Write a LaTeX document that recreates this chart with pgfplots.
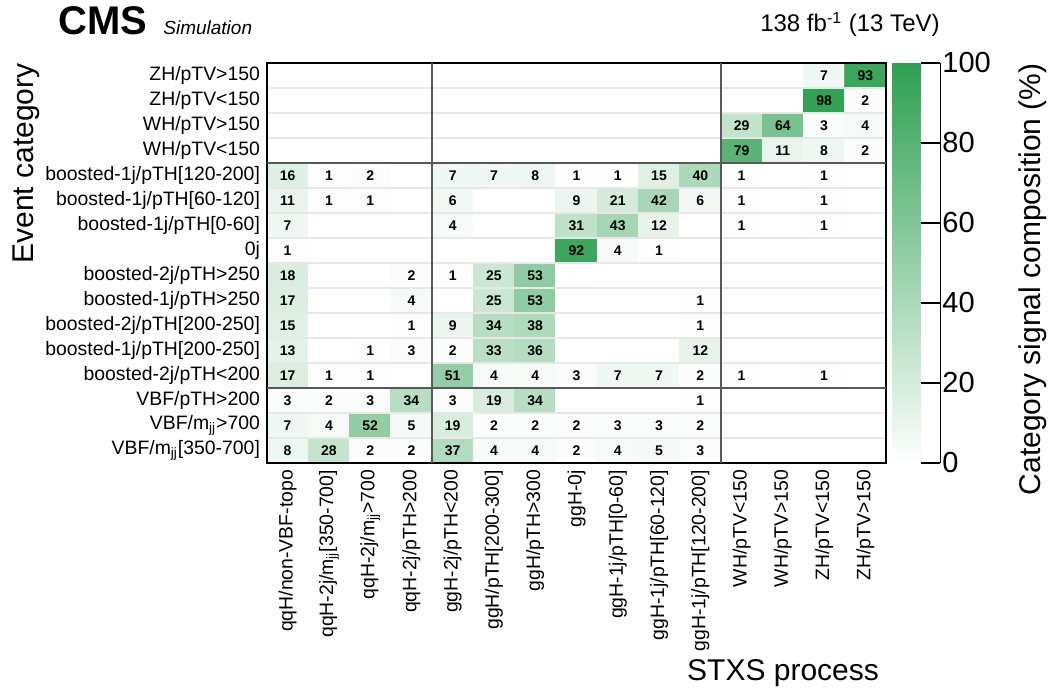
\documentclass[border=0pt]{standalone}
\usepackage{fontspec}
\setmainfont{Liberation Sans}
\usepackage{pgfplots}
\usepackage{pgfplotstable}
\pgfplotsset{compat=1.18}

% share of each STXS process (x) in each event category (y), in percent
\pgfplotstableread[row sep=\\]{
x y v\\
0 0 8\\ 1 0 28\\ 2 0 2\\ 3 0 2\\ 4 0 37\\ 5 0 4\\ 6 0 4\\ 7 0 2\\ 8 0 4\\ 9 0 5\\ 10 0 3\\ 11 0 0\\ 12 0 0\\ 13 0 0\\ 14 0 0\\
0 1 7\\ 1 1 4\\ 2 1 52\\ 3 1 5\\ 4 1 19\\ 5 1 2\\ 6 1 2\\ 7 1 2\\ 8 1 3\\ 9 1 3\\ 10 1 2\\ 11 1 0\\ 12 1 0\\ 13 1 0\\ 14 1 0\\
0 2 3\\ 1 2 2\\ 2 2 3\\ 3 2 34\\ 4 2 3\\ 5 2 19\\ 6 2 34\\ 7 2 0\\ 8 2 0\\ 9 2 0\\ 10 2 1\\ 11 2 0\\ 12 2 0\\ 13 2 0\\ 14 2 0\\
0 3 17\\ 1 3 1\\ 2 3 1\\ 3 3 0\\ 4 3 51\\ 5 3 4\\ 6 3 4\\ 7 3 3\\ 8 3 7\\ 9 3 7\\ 10 3 2\\ 11 3 1\\ 12 3 0\\ 13 3 1\\ 14 3 0\\
0 4 13\\ 1 4 0\\ 2 4 1\\ 3 4 3\\ 4 4 2\\ 5 4 33\\ 6 4 36\\ 7 4 0\\ 8 4 0\\ 9 4 0\\ 10 4 12\\ 11 4 0\\ 12 4 0\\ 13 4 0\\ 14 4 0\\
0 5 15\\ 1 5 0\\ 2 5 0\\ 3 5 1\\ 4 5 9\\ 5 5 34\\ 6 5 38\\ 7 5 0\\ 8 5 0\\ 9 5 0\\ 10 5 1\\ 11 5 0\\ 12 5 0\\ 13 5 0\\ 14 5 0\\
0 6 17\\ 1 6 0\\ 2 6 0\\ 3 6 4\\ 4 6 0\\ 5 6 25\\ 6 6 53\\ 7 6 0\\ 8 6 0\\ 9 6 0\\ 10 6 1\\ 11 6 0\\ 12 6 0\\ 13 6 0\\ 14 6 0\\
0 7 18\\ 1 7 0\\ 2 7 0\\ 3 7 2\\ 4 7 1\\ 5 7 25\\ 6 7 53\\ 7 7 0\\ 8 7 0\\ 9 7 0\\ 10 7 0\\ 11 7 0\\ 12 7 0\\ 13 7 0\\ 14 7 0\\
0 8 1\\ 1 8 0\\ 2 8 0\\ 3 8 0\\ 4 8 0\\ 5 8 0\\ 6 8 0\\ 7 8 92\\ 8 8 4\\ 9 8 1\\ 10 8 0\\ 11 8 0\\ 12 8 0\\ 13 8 0\\ 14 8 0\\
0 9 7\\ 1 9 0\\ 2 9 0\\ 3 9 0\\ 4 9 4\\ 5 9 0\\ 6 9 0\\ 7 9 31\\ 8 9 43\\ 9 9 12\\ 10 9 0\\ 11 9 1\\ 12 9 0\\ 13 9 1\\ 14 9 0\\
0 10 11\\ 1 10 1\\ 2 10 1\\ 3 10 0\\ 4 10 6\\ 5 10 0\\ 6 10 0\\ 7 10 9\\ 8 10 21\\ 9 10 42\\ 10 10 6\\ 11 10 1\\ 12 10 0\\ 13 10 1\\ 14 10 0\\
0 11 16\\ 1 11 1\\ 2 11 2\\ 3 11 0\\ 4 11 7\\ 5 11 7\\ 6 11 8\\ 7 11 1\\ 8 11 1\\ 9 11 15\\ 10 11 40\\ 11 11 1\\ 12 11 0\\ 13 11 1\\ 14 11 0\\
0 12 0\\ 1 12 0\\ 2 12 0\\ 3 12 0\\ 4 12 0\\ 5 12 0\\ 6 12 0\\ 7 12 0\\ 8 12 0\\ 9 12 0\\ 10 12 0\\ 11 12 79\\ 12 12 11\\ 13 12 8\\ 14 12 2\\
0 13 0\\ 1 13 0\\ 2 13 0\\ 3 13 0\\ 4 13 0\\ 5 13 0\\ 6 13 0\\ 7 13 0\\ 8 13 0\\ 9 13 0\\ 10 13 0\\ 11 13 29\\ 12 13 64\\ 13 13 3\\ 14 13 4\\
0 14 0\\ 1 14 0\\ 2 14 0\\ 3 14 0\\ 4 14 0\\ 5 14 0\\ 6 14 0\\ 7 14 0\\ 8 14 0\\ 9 14 0\\ 10 14 0\\ 11 14 0\\ 12 14 0\\ 13 14 98\\ 14 14 2\\
0 15 0\\ 1 15 0\\ 2 15 0\\ 3 15 0\\ 4 15 0\\ 5 15 0\\ 6 15 0\\ 7 15 0\\ 8 15 0\\ 9 15 0\\ 10 15 0\\ 11 15 0\\ 12 15 0\\ 13 15 7\\ 14 15 93\\
}\cells

\begin{document}
\begin{tikzpicture}
\begin{axis}[
  name=main,
  scale only axis,
  width=309.5pt, height=200pt,
  xmin=-0.5, xmax=14.5, ymin=-0.5, ymax=15.5,
  xtick={0,...,14}, ytick={0,...,15},
  xticklabels={{qqH/non-VBF-topo},{qqH-2j/m\textsubscript{jj}[350-700]},{qqH-2j/m\textsubscript{jj}>700},
    {qqH-2j/pTH>200},{ggH-2j/pTH<200},{ggH/pTH[200-300]},{ggH/pTH>300},{ggH-0j},
    {ggH-1j/pTH[0-60]},{ggH-1j/pTH[60-120]},{ggH-1j/pTH[120-200]},
    {WH/pTV<150},{WH/pTV>150},{ZH/pTV<150},{ZH/pTV>150}},
  yticklabels={{VBF/m\textsubscript{jj}[350-700]},{VBF/m\textsubscript{jj}>700},{VBF/pTH>200},
    {boosted-2j/pTH<200},{boosted-1j/pTH[200-250]},{boosted-2j/pTH[200-250]},
    {boosted-1j/pTH>250},{boosted-2j/pTH>250},{0j},{boosted-1j/pTH[0-60]},
    {boosted-1j/pTH[60-120]},{boosted-1j/pTH[120-200]},
    {WH/pTV<150},{WH/pTV>150},{ZH/pTV<150},{ZH/pTV>150}},
  xticklabel style={rotate=90, anchor=east, font=\fontsize{9.7}{10}\selectfont},
  yticklabel style={font=\fontsize{9.7}{10}\selectfont},
  major tick length=0pt, minor tick length=0pt,
  minor ytick={0.5,1.5,3.5,4.5,5.5,6.5,7.5,8.5,9.5,10.5,12.5,13.5,14.5},
  yminorgrids=true,
  minor grid style={draw=black!9, line width=0.8pt},
  extra x ticks={3.5,10.5}, extra x tick labels={},
  extra y ticks={2.5,11.5}, extra y tick labels={},
  extra tick style={grid=major, major grid style={draw=black!65, line width=0.6pt}},
  axis on top,
  axis line style={line width=1pt},
  /pgf/number format/assume math mode=true,
  colormap={cmsgreen}{rgb255=(255,255,255) rgb255=(46,160,82)},
  point meta min=0, point meta max=100,
  colorbar,
  colorbar style={
    at={(parent axis.north east)}, anchor=north west, xshift=-5.5pt,
    width=24pt,
    ytick={0,20,...,100},
    /pgf/number format/assume math mode=true,
    axis x line=none, axis y line*=right,
    tick align=inside,
    major tick length=9.5pt,
    tick style={black, line width=0.6pt},
    yticklabel style={font=\fontsize{14.5}{15}\selectfont, inner xsep=1pt},
    ylabel={Category signal composition (\%)},
    ylabel style={at={(axis description cs:1,1)}, anchor=north east, inner sep=0pt,
      yshift=-39pt, font=\fontsize{15}{15}\selectfont},
  },
  xlabel={STXS process},
  xlabel style={at={(axis description cs:1,0)}, anchor=base east, yshift=-108.5pt,
    font=\fontsize{15}{15}\selectfont},
  ylabel={Event category},
  ylabel style={at={(axis description cs:0,1)}, anchor=south east, inner sep=0pt,
    yshift=113.5pt, font=\fontsize{15}{15}\selectfont},
]
\addplot[matrix plot*, mesh/cols=15, point meta=explicit] table[x=x, y=y, meta=v] {\cells};
\addplot[only marks, mark=none, point meta=explicit symbolic,
  nodes near coords={\ifnum\pgfplotspointmeta>0 \pgfplotspointmeta\fi},
  every node near coord/.append style={anchor=center, text=black,
    font=\bfseries\fontsize{7}{7}\selectfont},
] table[x=x, y=y, meta=v] {\cells};
\end{axis}
\node[anchor=base west, inner sep=0pt, font=\fontsize{20}{20}\selectfont\bfseries]
  at ([shift={(-104.5pt,14pt)}]main.north west) {CMS};
\node[anchor=base west, inner sep=0pt, font=\fontsize{9.5}{10}\selectfont\itshape]
  at ([shift={(-52pt,14pt)}]main.north west) {Simulation};
\node[anchor=base east, inner sep=0pt, font=\fontsize{12}{12}\selectfont]
  at ([shift={(27pt,15.5pt)}]main.north east) {138 fb\textsuperscript{-1} (13 TeV)};
\path ([shift={(-133.5pt,-112.5pt)}]main.south west) rectangle ([shift={(84pt,31.5pt)}]main.north east);
\end{tikzpicture}
\end{document}
